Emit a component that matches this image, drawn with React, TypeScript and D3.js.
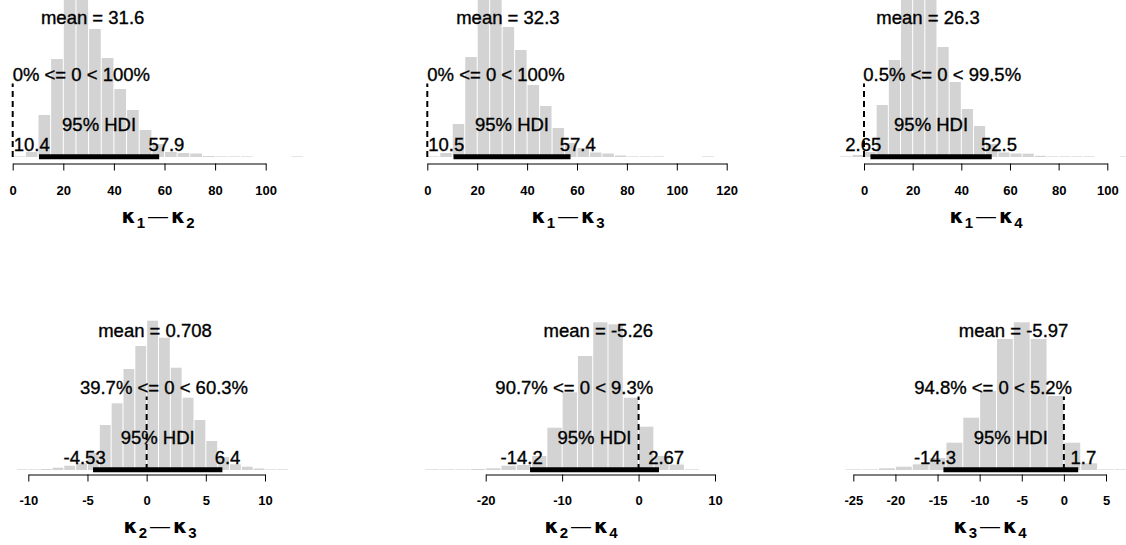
import React, { useEffect, useRef } from "react";
import * as d3 from "d3";

// ---------- data ----------
// Histogram bin heights (relative density, arbitrary units) for each difference
const k12Heights = [0.6, 5, 42, 98, 168, 166, 128, 99, 68, 47, 27, 13, 5, 4, 3.5, 1, 0.6, 0.6, 0.6, 0, 0, 0, 0.6];
const k13Heights = [0.6, 4, 33, 100, 170, 172, 130, 107, 72, 51, 29, 14, 9, 4.5, 3.5, 1.5, 0.6, 0.6, 0.6, 0, 0, 0, 0.6];
const k14Heights = [0.6, 2, 5, 52, 97, 165, 170, 168, 110, 75, 48, 31, 13, 4.5, 3.5, 3.3, 1.2, 0.6, 0.6, 0.6, 0.6, 0, 0, 0.6];
const k23Heights = [0.6, 0.6, 1, 2.3, 4.3, 6.7, 17, 45, 66.7, 101, 124, 149.3, 132.3, 102.3, 72.3, 50, 29, 13, 5.7, 3.3, 1.5, 0.6, 0.6];
const k24Heights = [0.6, 0.6, 0.6, 1, 1.7, 4.3, 5, 14, 42.3, 77.7, 114, 147.7, 145.7, 72.3, 43.3, 14, 5.5, 0.6];
const k34Heights = [0.6, 0.6, 1.7, 3.3, 5.7, 12, 27.3, 52.3, 79, 131, 147.7, 131, 74, 27.3, 6.7, 0.6, 0.6];
const binHeights = [k12Heights, k13Heights, k14Heights, k23Heights, k24Heights, k34Heights];
const binStarts = [0, 0, -10, -11, -28, -26];
const binWidths = [5, 5, 5, 1, 2, 2];

const subscripts = [["1", "2"], ["1", "3"], ["1", "4"], ["2", "3"], ["2", "4"], ["3", "4"]];
const meanValues = [31.6, 32.3, 26.3, 0.708, -5.26, -5.97];
const pctBelow = [0, 0, 0.5, 39.7, 90.7, 94.8];
const pctAbove = [100, 100, 99.5, 60.3, 9.3, 5.2];
const hdiLow = [10.4, 10.5, 2.65, -4.53, -14.2, -14.3];
const hdiHigh = [57.9, 57.4, 52.5, 6.4, 2.67, 1.7];
const compVal = 0;
const credMass = 95;

const tickValues = [
  [0, 20, 40, 60, 80, 100],
  [0, 20, 40, 60, 80, 100, 120],
  [0, 20, 40, 60, 80, 100],
  [-10, -5, 0, 5, 10],
  [-20, -10, 0, 10],
  [-25, -20, -15, -10, -5, 0, 5],
];

// ---------- layout ----------
const panelLayout = [
  { row: 0, px0: 12.7, px1: 265.7, titleX: 158 },
  { row: 0, px0: 427.3, px1: 726.7, titleX: 568 },
  { row: 0, px0: 864, px1: 1107.3, titleX: 986 },
  { row: 1, px0: 28.3, px1: 265, titleX: 160 },
  { row: 1, px0: 485.7, px1: 715, titleX: 581 },
  { row: 1, px0: 853.3, px1: 1106, titleX: 990 },
];
const rows = [
  { base: 157, axisY: 163.5, tickBase: 195, titleBase: 222.5 },
  { base: 470, axisY: 474.5, tickBase: 505, titleBase: 533.3 },
];
const FONT = "'Liberation Sans', Arial, Helvetica, sans-serif";
const BAR = "#d3d3d3";

export default function App() {
  const ref = useRef<SVGSVGElement>(null);

  useEffect(() => {
    const svg = d3.select(ref.current);
    svg.selectAll("*").remove();

    panelLayout.forEach((L, i) => {
      const R = rows[L.row];
      const ticks = tickValues[i];
      const x = d3.scaleLinear().domain([ticks[0], ticks[ticks.length - 1]]).range([L.px0, L.px1]);
      const y = d3.scaleLinear().domain([0, 150]).range([R.base, R.base - 150]);
      const g = svg.append("g");

      const bins = binHeights[i]
        .map((h, j) => ({ x0: binStarts[i] + j * binWidths[i], x1: binStarts[i] + (j + 1) * binWidths[i], h }))
        .filter((b) => b.h > 0);

      g.append("g")
        .selectAll("rect")
        .data(bins)
        .join("rect")
        .attr("x", (b) => x(b.x0) + 0.5)
        .attr("width", (b) => x(b.x1) - x(b.x0) - 1)
        .attr("y", (b) => y(b.h))
        .attr("height", (b) => y(0) - y(b.h))
        .attr("fill", BAR);

      // axis
      const ax = g.append("g").attr("transform", `translate(0,${R.axisY})`);
      ax.call(
        d3.axisBottom(x).tickValues(ticks).tickSize(7).tickSizeOuter(0).tickFormat((d) => String(d))
      );
      ax.select(".domain").attr("stroke", "#000");
      ax.selectAll(".tick line").attr("stroke", "#000");
      ax.selectAll(".tick text")
        .attr("y", R.tickBase - R.axisY)
        .attr("dy", 0)
        .attr("fill", "#000")
        .attr("font-family", FONT)
        .attr("font-weight", "bold")
        .attr("font-size", 13);
      ax.attr("font-family", null).attr("font-size", null);

      // HDI bar
      g.append("line")
        .attr("x1", x(hdiLow[i]))
        .attr("x2", x(hdiHigh[i]))
        .attr("y1", y(0) - 0.3)
        .attr("y2", y(0) - 0.3)
        .attr("stroke", "#000")
        .attr("stroke-width", 5);

      // comparison value dashed line
      g.append("line")
        .attr("x1", x(compVal))
        .attr("x2", x(compVal))
        .attr("y1", y(0))
        .attr("y2", y(0) - 73.5)
        .attr("stroke", "#000")
        .attr("stroke-width", 2)
        .attr("stroke-dasharray", "6,4");

      const txt = (s: string, xx: number, yy: number, adj: number) => {
        const t = g
          .append("text")
          .attr("x", xx)
          .attr("y", yy)
          .attr("font-family", FONT)
          .attr("font-size", 18.5)
          .attr("fill", "#000")
          .attr("stroke", "#000")
          .attr("stroke-width", 0.35)
          .text(s);
        const len = (t.node() as SVGTextElement).getComputedTextLength();
        t.attr("x", xx - adj * len);
        return t;
      };

      txt(`mean = ${meanValues[i]}`, x(meanValues[i]), y(0) - 133, 0.5);
      txt(`${pctBelow[i]}% <= ${compVal} < ${pctAbove[i]}%`, x(compVal), y(0) - 76, pctBelow[i] / 100);
      txt(`${credMass}% HDI`, x((hdiLow[i] + hdiHigh[i]) / 2), y(0) - 26, 0.5);
      txt(String(hdiLow[i]), x(hdiLow[i]), y(0) - 6, 0.7);
      txt(String(hdiHigh[i]), x(hdiHigh[i]), y(0) - 6, 0.3);

      // axis title: kappa_a - kappa_b
      const [a, b] = subscripts[i];
      const tt = g
        .append("text")
        .attr("x", L.titleX)
        .attr("y", R.titleBase)
        .attr("text-anchor", "middle")
        .attr("font-weight", "bold")
        .attr("fill", "#000");
      tt.append("tspan").attr("font-family", "'DejaVu Sans', sans-serif").attr("font-size", 20).text("κ");
      tt.append("tspan").attr("font-family", FONT).attr("font-size", 15).attr("dy", 5).attr("dx", 1).text(a);
      tt.append("tspan").attr("font-family", FONT).attr("font-size", 20).attr("font-weight", "normal").attr("dy", -5).attr("dx", 3).text("—");
      tt.append("tspan").attr("font-family", "'DejaVu Sans', sans-serif").attr("font-size", 20).attr("dx", 3).text("κ");
      tt.append("tspan").attr("font-family", FONT).attr("font-size", 15).attr("dy", 5).attr("dx", 1).text(b);
    });
  }, []);

  return (
    <svg
      ref={ref}
      width={1126}
      height={545}
      style={{ position: "absolute", left: 0, top: 0, background: "#fff" }}
    />
  );
}
